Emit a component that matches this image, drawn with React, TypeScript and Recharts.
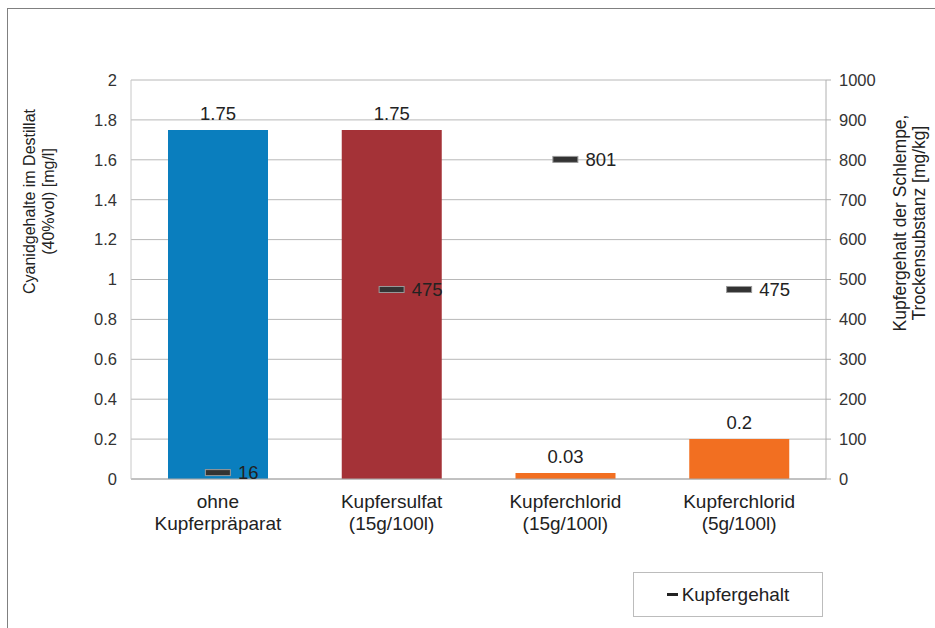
import React from "react";
import { ComposedChart, Bar, Line, XAxis, YAxis, CartesianGrid, Cell, LabelList } from "recharts";

const categoryTop = ["ohne", "Kupfersulfat", "Kupferchlorid", "Kupferchlorid"];
const categoryBottom = ["Kupferpräparat", "(15g/100l)", "(15g/100l)", "(5g/100l)"];
const cyanidValues = [1.75, 1.75, 0.03, 0.2];
const kupferValues = [16, 475, 801, 475];
const leftTicks = [0, 0.2, 0.4, 0.6, 0.8, 1, 1.2, 1.4, 1.6, 1.8, 2];
const rightTicks = [0, 100, 200, 300, 400, 500, 600, 700, 800, 900, 1000];

const barColors = ["#0a7ebe", "#a43237", "#f26f21", "#f26f21"];

const data = categoryTop.map((top, i) => ({
  name: `${top}\n${categoryBottom[i]}`,
  cyanid: cyanidValues[i],
  kupfer: kupferValues[i],
}));

const FONT = '"Liberation Sans", Arial, sans-serif';
const TEXT = "#222";

function CategoryTick({ x, y, payload }: any) {
  const [a, b] = String(payload.value).split("\n");
  return (
    <text x={x} textAnchor="middle" fill={TEXT} fontSize={19} fontFamily={FONT}>
      <tspan x={x} y={y + 29}>{a}</tspan>
      <tspan x={x} y={y + 51}>{b}</tspan>
    </text>
  );
}

function KupferDot(props: any) {
  const { cx, cy, index } = props;
  if (cx == null || cy == null) return <g key={index} />;
  return <rect key={index} x={cx - 12.5} y={cy - 3} width={25} height={6} fill="#333" stroke="#9a9a9a" strokeWidth={1} />;
}

function KupferLabel(props: any) {
  const x = props.x ?? props.viewBox?.x;
  const y = props.y ?? props.viewBox?.y;
  return (
    <text x={x + 20} y={y} dy="0.36em" fill={TEXT} fontSize={18.5} fontFamily={FONT}>
      {props.value}
    </text>
  );
}

function LeftTitle() {
  const cy = 201.5;
  return (
    <text transform={`rotate(-90 0 ${cy})`} x={0} y={cy} textAnchor="middle" fill={TEXT} fontSize={16} fontFamily={FONT}>
      <tspan x={0} y={cy + 35}>Cyanidgehalte im Destillat</tspan>
      <tspan x={0} y={cy + 54}>(40%vol) [mg/l]</tspan>
    </text>
  );
}

function RightTitle() {
  const cy = 223;
  return (
    <text transform={`rotate(-90 0 ${cy})`} x={0} y={cy} textAnchor="middle" fill={TEXT} fontSize={17.5} fontFamily={FONT}>
      <tspan x={0} y={cy + 906}>Kupfergehalt der Schlempe,</tspan>
      <tspan x={0} y={cy + 924.5}>Trockensubstanz [mg/kg]</tspan>
    </text>
  );
}

export default function App() {
  return (
    <div style={{ position: "absolute", left: 0, top: 0, width: 935, height: 628, overflow: "hidden", background: "#fff" }}>
      <div style={{ position: "absolute", left: 7, top: 8, width: 1000, height: 1000, border: "1px solid #808080" }} />
      <div style={{ position: "absolute", left: 0, top: 0 }}>
        <ComposedChart width={935} height={628} data={data} margin={{ top: 80, right: 0, bottom: 0, left: 0 }}>
          <CartesianGrid yAxisId="left" vertical={false} stroke="#b8b8b8" />
          <XAxis
            dataKey="name"
            height={149}
            tickSize={0}
            tickMargin={0}
            tickLine={false}
            stroke="#a8a8a8"
            tick={<CategoryTick />}
            interval={0}
          />
          <YAxis
            yAxisId="left"
            orientation="left"
            width={131}
            domain={[0, 2]}
            ticks={leftTicks}
            tickLine={false}
            tickSize={0}
            tickMargin={14}
            stroke="#c8c8c8"
            tick={{ fill: "#333", fontSize: 16.5, fontFamily: FONT }}
            label={{ content: () => <LeftTitle /> }}
          />
          <YAxis
            yAxisId="right"
            orientation="right"
            width={109}
            domain={[0, 1000]}
            ticks={rightTicks}
            tickSize={5}
            tickMargin={8}
            stroke="#b0b0b0"
            tick={{ fill: "#333", fontSize: 16.5, fontFamily: FONT }}
            label={{ content: () => <RightTitle /> }}
          />
          <Bar yAxisId="left" dataKey="cyanid" barSize={100} isAnimationActive={false}>
            {data.map((_, i) => (
              <Cell key={i} fill={barColors[i]} />
            ))}
            <LabelList dataKey="cyanid" position="top" offset={10} fill={TEXT} fontSize={18.5} fontFamily={FONT} />
          </Bar>
          <Line
            yAxisId="right"
            dataKey="kupfer"
            stroke="none"
            isAnimationActive={false}
            dot={KupferDot}
            activeDot={false}
          >
            <LabelList dataKey="kupfer" content={KupferLabel} />
          </Line>
        </ComposedChart>
      </div>
      <div
        style={{
          position: "absolute",
          left: 633,
          top: 572,
          width: 190,
          height: 45,
          boxSizing: "border-box",
          border: "1px solid #bcbcbc",
          display: "flex",
          alignItems: "center",
          justifyContent: "center",
          fontFamily: FONT,
          fontSize: 19,
          color: TEXT,
        }}
      >
        <span style={{ display: "inline-block", width: 11, height: 3, background: "#222", marginRight: 4 }} />
        <span>Kupfergehalt</span>
      </div>
    </div>
  );
}
